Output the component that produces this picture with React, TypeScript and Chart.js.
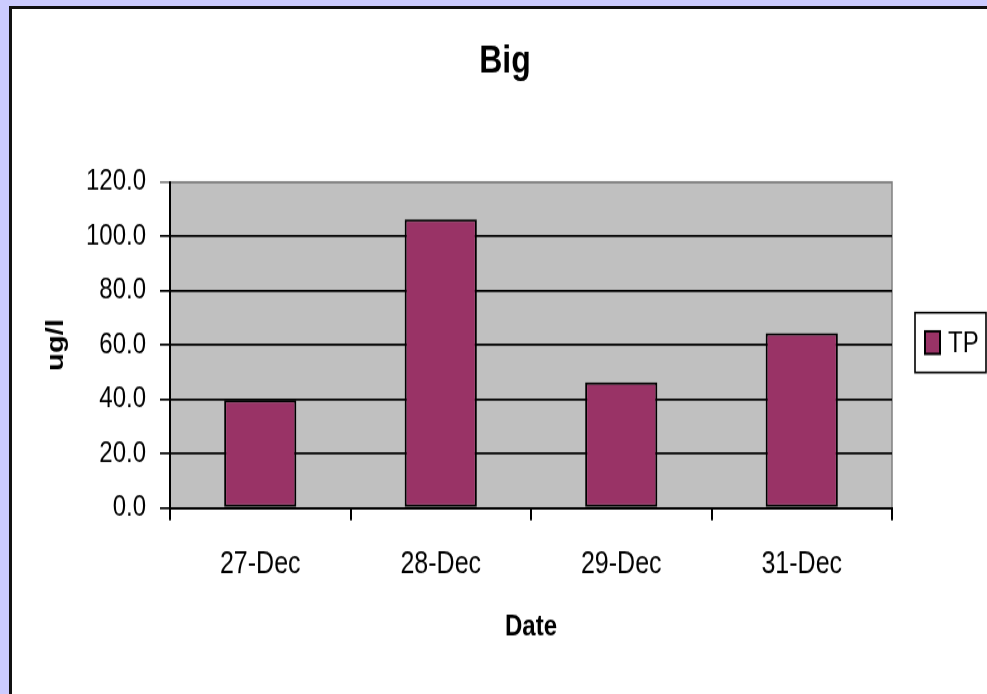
import React, { useEffect, useRef } from "react";
import { Chart, registerables } from "chart.js";

Chart.register(...registerables);

// Sample dates and total phosphorus readings (ug/l)
const categories = ["27-Dec", "28-Dec", "29-Dec", "31-Dec"];
const tpValues = [39.7, 106.3, 46.3, 64.4];
const seriesLabel = "TP";
const yMin = 0;
const yMax = 120;
const yStep = 20;

const FONT = "'Liberation Sans', Arial, sans-serif";
const BAR_COLOR = "#993366";
const PLOT_BG = "#c0c0c0";

// Canvas is drawn at a reduced height and stretched vertically on the page.
const CANVAS_W = 975;
const CANVAS_H = 561;
const DISPLAY_H = 685;

const plotBackground = {
  id: "plotBackground",
  beforeDraw(chart: any) {
    const { ctx, chartArea } = chart;
    const { left, top, right, bottom } = chartArea;
    ctx.save();
    ctx.fillStyle = PLOT_BG;
    ctx.fillRect(left, top, right - left, bottom - top);
    ctx.strokeStyle = "#808080";
    ctx.lineWidth = 1.5;
    ctx.strokeRect(left, top, right - left, bottom - top);
    ctx.restore();
  },
};

// Center the chart title across the whole canvas rather than the padded area.
const wideTitle = {
  id: "wideTitle",
  afterLayout(chart: any) {
    const t = chart.titleBlock;
    if (t) {
      t.left = 11;
      t.right = chart.width;
      t.width = t.right - t.left;
    }
  },
};

const boxedLegend = {
  id: "boxedLegend",
  afterDraw(chart: any) {
    const { ctx, chartArea } = chart;
    const ds = chart.data.datasets[0];
    const boxW = 71;
    const boxH = 49;
    const x = chartArea.right + 23;
    const cy = (chartArea.top + chartArea.bottom) / 2 - 2;
    const y = cy - boxH / 2;
    ctx.save();
    ctx.fillStyle = "#ffffff";
    ctx.fillRect(x, y, boxW, boxH);
    ctx.strokeStyle = "#000000";
    ctx.lineWidth = 1.6;
    ctx.strokeRect(x, y, boxW, boxH);
    const sw = 15;
    const sh = 18.5;
    ctx.fillStyle = ds.backgroundColor;
    ctx.fillRect(x + 10, cy - sh / 2, sw, sh);
    ctx.lineWidth = 2;
    ctx.strokeRect(x + 10, cy - sh / 2, sw, sh);
    ctx.fillStyle = "#000000";
    ctx.font = `24px ${FONT}`;
    ctx.textBaseline = "middle";
    ctx.textAlign = "left";
    ctx.fillText(ds.label, x + 33, cy + 1);
    ctx.restore();
  },
};

export default function App() {
  const canvasRef = useRef<HTMLCanvasElement | null>(null);

  useEffect(() => {
    document.body.style.margin = "0";
    const canvas = canvasRef.current;
    if (!canvas) return;
    const chart = new Chart(canvas, {
      type: "bar",
      data: {
        labels: categories,
        datasets: [
          {
            label: seriesLabel,
            data: tpValues,
            backgroundColor: BAR_COLOR,
            borderColor: "#000000",
            borderWidth: 2,
            borderSkipped: false,
            barPercentage: 0.4,
            categoryPercentage: 1,
          },
        ],
      },
      options: {
        responsive: false,
        animation: false,
        devicePixelRatio: 1,
        layout: { padding: { left: 0, right: 95, top: 0, bottom: 0 } },
        plugins: {
          legend: { display: false },
          tooltip: { enabled: false },
          title: {
            display: true,
            text: "Big",
            color: "#000000",
            font: { family: FONT, size: 32, weight: "bold" },
            padding: { top: 24, bottom: 79.3 },
          },
        },
        scales: {
          x: {
            grid: {
              offset: true,
              drawOnChartArea: false,
              drawTicks: true,
              tickLength: 10,
              color: "#000000",
              lineWidth: 2,
            },
            border: { display: true, color: "#000000", width: 2 },
            ticks: {
              color: "#000000",
              font: { family: FONT, size: 25 },
              padding: 21,
              autoSkip: false,
              maxRotation: 0,
              minRotation: 0,
            },
            title: {
              display: true,
              text: "Date",
              color: "#000000",
              font: { family: FONT, size: 24, weight: "bold" },
              padding: { top: 0, bottom: 40 },
            },
            afterFit(scale: any) {
              scale.height = 152.3;
            },
          },
          y: {
            min: yMin,
            max: yMax,
            grid: {
              drawTicks: true,
              tickLength: 10,
              color: (c: any) => (c.tick && c.tick.value === yMax ? "#808080" : "#000000"),
              lineWidth: 1.7,
            },
            border: { display: true, color: "#000000", width: 2 },
            ticks: {
              stepSize: yStep,
              color: "#000000",
              font: { family: FONT, size: 24 },
              padding: 14,
              callback: (v: any) => Number(v).toFixed(1),
            },
            title: {
              display: true,
              text: "ug/l",
              color: "#000000",
              font: { family: FONT, size: 24, weight: "bold" },
              padding: { top: 30, bottom: 0 },
            },
            afterFit(scale: any) {
              scale.width = 158;
            },
          },
        },
      },
      plugins: [plotBackground, wideTitle, boxedLegend],
    } as any);
    return () => chart.destroy();
  }, []);

  return (
    <div
      style={{
        position: "fixed",
        left: 0,
        top: 0,
        width: 987,
        height: 694,
        background: "#ccccff",
        overflow: "hidden",
      }}
    >
      <div
        style={{
          position: "absolute",
          left: 9,
          top: 6,
          right: 0,
          bottom: 0,
          background: "#ffffff",
          borderLeft: "3px solid #111111",
          borderTop: "3px solid #111111",
        }}
      />
      <canvas
        ref={canvasRef}
        width={CANVAS_W}
        height={CANVAS_H}
        style={{
          position: "absolute",
          left: 12,
          top: 9,
          width: CANVAS_W + "px",
          height: DISPLAY_H + "px",
        }}
      />
    </div>
  );
}
